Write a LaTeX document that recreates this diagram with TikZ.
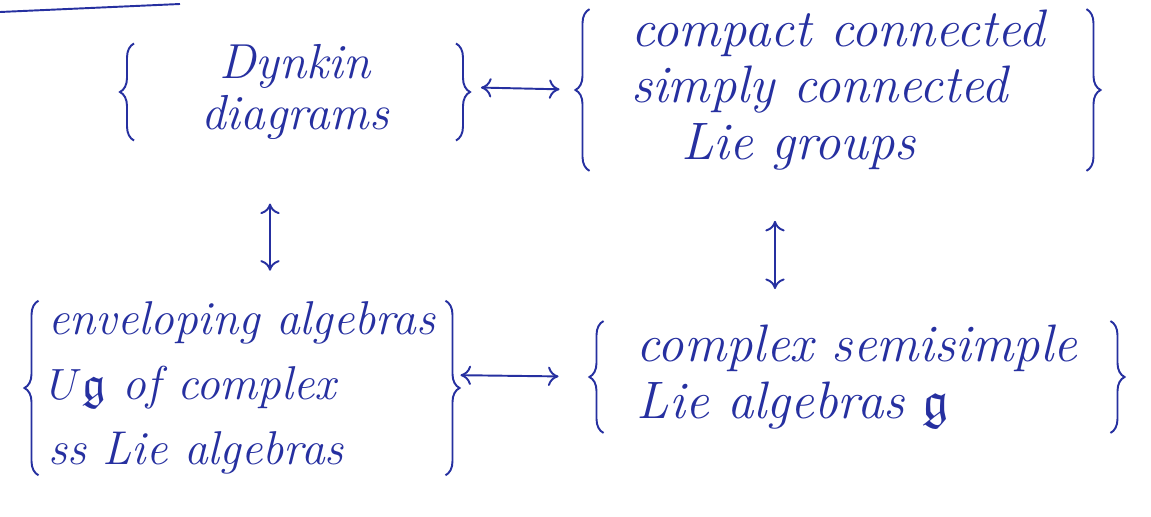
\documentclass[tikz,border=0pt]{standalone}
\usepackage{amsmath}
\usepackage{amssymb}
\usepackage{amsfonts}
\usepackage{tikz}
\usetikzlibrary{arrows.meta,calc,decorations.pathreplacing}
\definecolor{ink}{RGB}{38,48,160}

\begin{document}
\begin{tikzpicture}[line width=1.1pt, ink, >={To[length=6pt,width=11pt]}]
\path [use as bounding box] (0,0) rectangle (23.02,-10.34);
\tikzstyle{every node} = [inner sep=0pt, align=left]
\tikzstyle{curly} = [decorate, decoration={brace, amplitude=8pt}]
\draw (0,-0.24) -- (3.6,-0.08);
\node[minimum width=6.4cm, minimum height=1.6cm, align=center, font=\itshape\fontsize{28}{29}\selectfont] (dynkin) at (5.9,-1.84) {Dynkin\\ diagrams};
\node[minimum width=9.9cm, minimum height=2.6cm, font=\itshape\fontsize{30}{32}\selectfont] (lie) at (16.76,-1.8) {compact connected\\ simply connected\\ \hspace*{1cm}Lie groups};
\node[minimum width=8.1cm, minimum height=3.3cm, font=\itshape\fontsize{27}{37}\selectfont] (env) at (4.84,-7.76) {enveloping algebras\\ $U\mathfrak{g}$ of complex\\ ss Lie algebras};
\node[minimum width=10.1cm, minimum height=2.2cm, font=\itshape\fontsize{30}{32}\selectfont] (alg) at (17.14,-7.54) {complex semisimple\\ Lie algebras $\mathfrak{g}$};
% braces
\draw[curly] (dynkin.south west) -- (dynkin.north west);
\draw[curly] (dynkin.north east) -- (dynkin.south east);
\draw[curly] (lie.south west) -- (lie.north west);
\draw[curly] (lie.north east) -- (lie.south east);
\draw[curly] (env.south west) -- (env.north west);
\draw[curly] (env.north east) -- (env.south east);
\draw[curly] (alg.south west) -- (alg.north west);
\draw[curly] (alg.north east) -- (alg.south east);
% arrows
\draw[<->, shorten <=0.5cm, shorten >=0.6cm] ([yshift=0.1cm]dynkin.east) -- (lie.west);
\draw[<->, shorten <=1.26cm, shorten >=0.6cm] ([xshift=-0.5cm]dynkin.south) -- ([xshift=0.56cm]env.north);
\draw[<->, shorten <=1cm, shorten >=0.64cm] ([xshift=-1.26cm]lie.south) -- ([xshift=-1.64cm]alg.north);
\draw[<->, shorten <=0.3cm, shorten >=0.9cm] ([yshift=0.26cm]env.east) -- (alg.west);
\end{tikzpicture}
\end{document}
